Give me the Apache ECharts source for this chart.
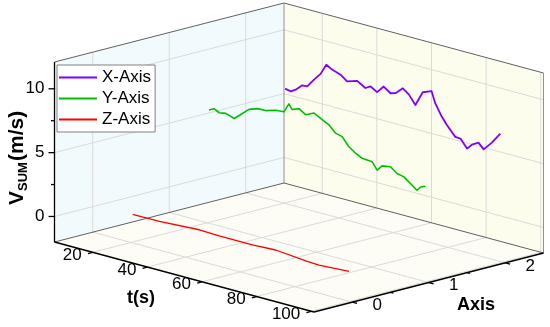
<!DOCTYPE html>
<html><head><meta charset="utf-8">
<script src="https://cdn.jsdelivr.net/npm/echarts@6/dist/echarts.min.js"></script>
<style>html,body{margin:0;padding:0;background:#fff}#c{width:550px;height:327px}</style>
</head><body><div id="c"></div>
<script>
// ---- data ----
const seriesNames = ['X-Axis', 'Y-Axis', 'Z-Axis'];
const seriesAxisPos = [2, 1, 0];
const seriesColors = ['#8000ff', '#00bf00', '#ff0000'];

const xAxisT = [20.4,22.5,24.3,26.7,28.5,31.0,33.4,35.5,37.6,40.7,43.1,46.8,49.8,51.7,54.1,56.5,59.0,60.8,63.5,65.7,68.1,70.8,74.0,75.4,77.8,79.7,82.7,84.6,87.0,88.8,91.2,93.1,96.1,99.2];
const xAxisV = [6.99,6.90,7.14,7.62,7.64,8.31,8.90,9.74,9.48,9.26,8.87,9.13,8.74,8.97,8.66,9.24,8.86,8.97,9.51,9.16,8.46,9.62,9.90,9.01,8.10,7.55,6.81,6.79,6.14,6.55,6.85,6.43,7.13,8.02];

const yAxisT = [20.6,22.4,24.3,26.7,29.8,32.2,35.2,38.3,41.3,45.0,48.0,49.8,51.0,53.5,56.0,59.0,62.0,64.5,66.9,69.3,71.7,74.2,76.6,80.3,82.1,83.9,87.0,89.4,91.9,94.3,96.7,98.0,99.8];
const yAxisV = [6.87,7.08,6.87,6.96,6.74,7.19,7.76,8.00,8.02,8.26,8.31,9.04,8.66,8.88,8.54,8.85,8.50,8.24,7.73,7.60,6.96,6.58,6.32,6.26,5.71,6.15,6.26,5.87,5.75,5.37,4.98,5.31,5.47];

const zAxisT = [20.6,30.4,45.0,52.3,64.4,73.0,84.0,88.8,99.8];
const zAxisV = [0.23,0.26,0.44,0.39,0.37,0.47,0.25,0.20,0.35];

const tTicks = [20, 40, 60, 80, 100];
const axisTicks = [0, 1, 2];
const axisMinorTicks = [0.5, 1.5];
const vTicks = [0, 5, 10];
const vMinorTicks = [2.5, 7.5];
const tLim = [6, 101], aLim = [-0.5, 2.5], vLim = [-2, 12.1];

// ---- oblique 3D projection ----
const O = [54.5, 242], TV = [259.5, 70], AV = [229.5, -59], H = 180;
function proj(t, a, v) {
  const ft = (t - tLim[0]) / (tLim[1] - tLim[0]);
  const fa = (a - aLim[0]) / (aLim[1] - aLim[0]);
  const fv = (v - vLim[0]) / (vLim[1] - vLim[0]);
  return [O[0] + ft * TV[0] + fa * AV[0], O[1] + ft * TV[1] + fa * AV[1] - fv * H];
}
const [t0, t1] = tLim, [a0, a1] = aLim, [v0, v1] = vLim;
const FONT = 'Arial, "Liberation Sans", sans-serif';
const g = [];
function poly(pts, fill, z) { g.push({ type: 'polygon', z: z, silent: true, shape: { points: pts }, style: { fill: fill, stroke: null } }); }
function seg(p, q, color, w, z) { g.push({ type: 'line', z: z, silent: true, shape: { x1: p[0], y1: p[1], x2: q[0], y2: q[1] }, style: { stroke: color, lineWidth: w } }); }
function txt(x, y, s, size, align, bold, z) { g.push({ type: 'text', z: z, silent: true, x: x, y: y, style: { text: s, font: (bold ? 'bold ' : '') + size + 'px ' + FONT, fill: '#000', align: align, verticalAlign: 'middle' } }); }

// walls
poly([proj(t0,a0,v0), proj(t1,a0,v0), proj(t1,a1,v0), proj(t0,a1,v0)], '#fdfdf5', 0);
poly([proj(t0,a0,v0), proj(t0,a1,v0), proj(t0,a1,v1), proj(t0,a0,v1)], '#f1fbfd', 0);
poly([proj(t0,a1,v0), proj(t1,a1,v0), proj(t1,a1,v1), proj(t0,a1,v1)], '#fdfdee', 0);
// grids
const GC = '#dadada';
axisTicks.forEach(a => { seg(proj(t0,a,v0), proj(t0,a,v1), GC, 1, 1); seg(proj(t0,a,v0), proj(t1,a,v0), GC, 1, 1); });
vTicks.forEach(v => { seg(proj(t0,a0,v), proj(t0,a1,v), GC, 1, 1); seg(proj(t0,a1,v), proj(t1,a1,v), GC, 1, 1); });
tTicks.forEach(t => { seg(proj(t,a1,v0), proj(t,a1,v1), GC, 1, 1); seg(proj(t,a0,v0), proj(t,a1,v0), GC, 1, 1); });
// box edges
const EC = '#606060';
seg(proj(t0,a0,v1), proj(t0,a1,v1), EC, 1, 1);
seg(proj(t0,a1,v1), proj(t1,a1,v1), EC, 1, 1);
seg(proj(t0,a1,v0), proj(t0,a1,v1), '#909090', 1, 1);
seg(proj(t1,a1,v0), proj(t1,a1,v1), '#909090', 1, 1);
seg(proj(t0,a0,v0), proj(t0,a1,v0), EC, 1, 1);
seg(proj(t0,a1,v0), proj(t1,a1,v0), EC, 1, 1);
// axes
seg(proj(t0,a0,v0), proj(t0,a0,v1), '#000', 1.3, 5);
seg(proj(t0,a0,v0), proj(t1,a0,v0), '#000', 1.3, 5);
seg(proj(t1,a0,v0), proj(t1,a1,v0), '#000', 1.3, 5);
// ticks + labels
const aLen = Math.hypot(AV[0], AV[1]), tLen = Math.hypot(TV[0], TV[1]);
vTicks.forEach(v => { const p = proj(t0,a0,v); seg(p, [p[0]-6, p[1]], '#000', 1.3, 5); txt(p[0]-10, p[1], String(v), 17, 'right', false, 5); });
vMinorTicks.forEach(v => { const p = proj(t0,a0,v); seg(p, [p[0]-3.5, p[1]], '#000', 1.3, 5); });
tTicks.forEach(t => { const p = proj(t,a0,v0); seg(p, [p[0]-5*AV[0]/aLen, p[1]-5*AV[1]/aLen], '#000', 1.3, 5); txt(p[0]-11, p[1]+3, String(t), 17, 'right', false, 5); });
axisTicks.forEach(a => { const p = proj(t1,a,v0); seg(p, [p[0]+5*TV[0]/tLen, p[1]+5*TV[1]/tLen], '#000', 1.3, 5); txt(p[0]+25, p[1]+3, String(a), 17, 'center', false, 5); });
axisMinorTicks.forEach(a => { const p = proj(t1,a,v0); seg(p, [p[0]+3*TV[0]/tLen, p[1]+3*TV[1]/tLen], '#000', 1.3, 5); });
// axis titles
txt(141, 298, 't(s)', 18, 'center', true, 5);
txt(476, 305, 'Axis', 18, 'center', true, 5);
g.push({ type: 'group', x: 17, y: 155, rotation: Math.PI / 2, z: 5, children: [
  { type: 'text', z: 5, x: -50, y: 0, style: { text: 'V', font: 'bold 21px ' + FONT, fill: '#000', align: 'left', verticalAlign: 'middle' } },
  { type: 'text', z: 5, x: -36, y: 6, style: { text: 'SUM', font: 'bold 13px ' + FONT, fill: '#000', align: 'left', verticalAlign: 'middle' } },
  { type: 'text', z: 5, x: -6, y: 0, style: { text: '(m/s)', font: 'bold 21px ' + FONT, fill: '#000', align: 'left', verticalAlign: 'middle' } }
]});

const lineData = [[xAxisT, xAxisV], [yAxisT, yAxisV], [zAxisT, zAxisV]];
const lineWidths = [1.8, 1.6, 1.3];
const series = lineData.map((d, k) => ({
  type: 'custom', name: seriesNames[k], coordinateSystem: 'none', z: 3,
  itemStyle: { color: seriesColors[k] },
  data: d[0].map((t, i) => [t, d[1][i]]),
  renderItem: function (params, api) {
    if (params.dataIndex !== 0) return null;
    const pts = d[0].map((t, i) => proj(t, seriesAxisPos[k], d[1][i]));
    return { type: 'polyline', shape: { points: pts }, style: { stroke: seriesColors[k], lineWidth: lineWidths[k], fill: null, lineJoin: 'round' } };
  }
}));

const chart = echarts.init(document.getElementById('c'), null, { renderer: 'canvas' });
chart.setOption({
  animation: false,
  graphic: g,
  legend: {
    orient: 'vertical', left: 57, top: 65, data: seriesNames,
    backgroundColor: '#ffffff', borderColor: '#808080', borderWidth: 1,
    padding: [4, 4, 4, 2], itemGap: 4, itemWidth: 38, itemHeight: 2, icon: 'rect',
    textStyle: { fontSize: 17, fontFamily: FONT, color: '#000' }
  },
  series: series
});
</script></body></html>
